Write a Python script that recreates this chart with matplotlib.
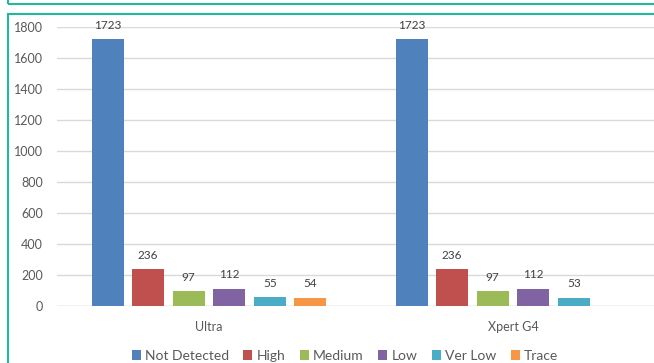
import numpy as np
import matplotlib
matplotlib.use('Agg')
import matplotlib.pyplot as plt
from matplotlib.patches import Rectangle

plt.rcParams['font.family'] = ['Lato', 'DejaVu Sans']

categorias = ['Ultra', 'Xpert G4']
series = ['Not Detected', 'High', 'Medium', 'Low', 'Ver Low', 'Trace']
valores = {
    'Not Detected': [1723, 1723],
    'High': [236, 236],
    'Medium': [97, 97],
    'Low': [112, 112],
    'Ver Low': [55, 53],
    'Trace': [54, None],
}
colores = ['#4F81BD', '#C0504D', '#9BBB59', '#8064A2', '#4BACC6', '#F79646']

W, H = 654, 363
fig = plt.figure(figsize=(W/100, H/100), dpi=100)

# marcos verdes de la diapositiva
teal = '#22B89C'
fig.patches.append(Rectangle((8/W, 1-4/H), 2, 1, transform=fig.transFigure,
                             fill=False, ec=teal, lw=1.5))
fig.patches.append(Rectangle((8/W, -1), 2, 1-14/H+1, transform=fig.transFigure,
                             fill=False, ec=teal, lw=1.5))

ax = fig.add_axes([57/W, 57/H, 608/W, 279/H])
x = np.arange(len(categorias))
ancho = 0.105
paso = 0.1333
for i, (s, c) in enumerate(zip(series, colores)):
    xs, ys = [], []
    for j, v in enumerate(valores[s]):
        if v is not None:
            xs.append(x[j] + (i - 2.5) * paso)
            ys.append(v)
    barras = ax.bar(xs, ys, width=ancho, color=c, label=s, zorder=3)
    for b, v in zip(barras, ys):
        ax.annotate(str(v), (b.get_x() + b.get_width()/2, v), xytext=(0, 6),
                    textcoords='offset points', ha='center', va='bottom',
                    fontsize=8.5, color='#404040')

ax.set_xlim(-0.5, 1.5)
ax.set_ylim(0, 1800)
ax.set_yticks(np.arange(0, 1801, 200))
ax.set_xticks(x)
ax.set_xticklabels(categorias)
ax.grid(axis='y', color='#D9D9D9', lw=1, zorder=0)
for sp in ax.spines.values():
    sp.set_visible(False)
ax.axhline(0, color='#D9D9D9', lw=1, zorder=2)
ax.tick_params(length=0, labelsize=9, colors='#595959')
ax.tick_params(axis='x', pad=11)
ax.tick_params(axis='y', pad=10)

fig.legend(loc='center', bbox_to_anchor=(345/W, 1-356/H), ncol=6, frameon=False,
           fontsize=10, handlelength=0.65, handleheight=0.65, handletextpad=0.3,
           columnspacing=1.05, labelcolor='#595959')

plt.savefig('out.png', dpi=100)
